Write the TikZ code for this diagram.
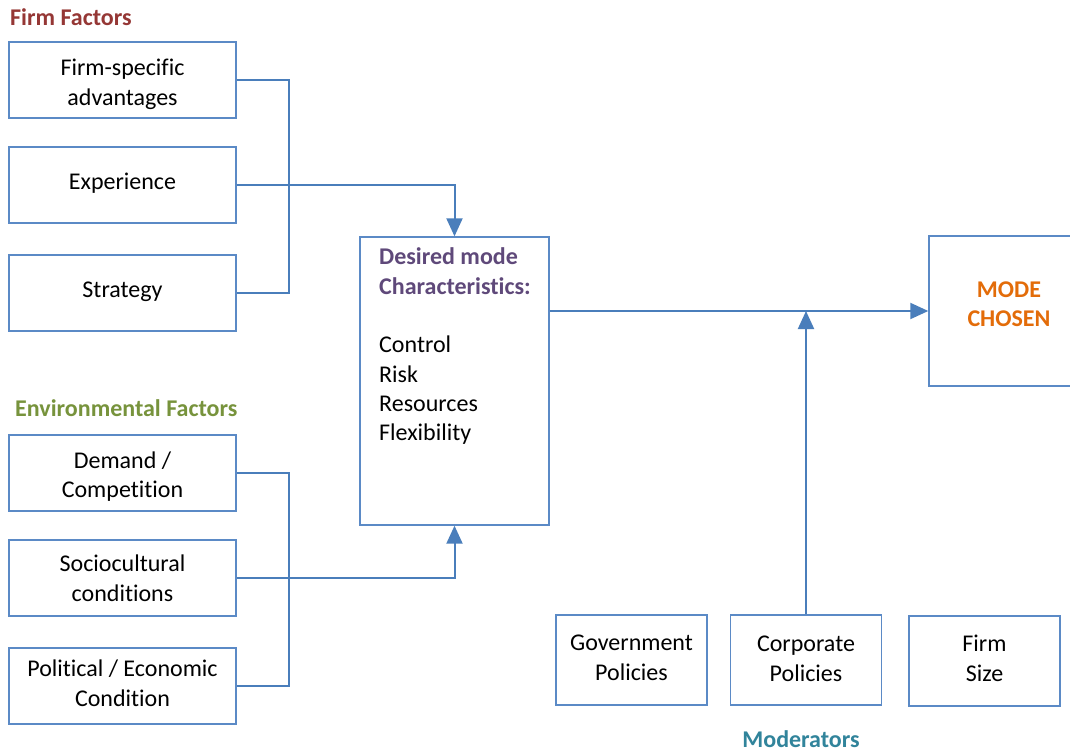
\documentclass[tikz,border=0pt]{standalone}
\usepackage{fontspec}
\setmainfont{Carlito}[Ligatures={NoCommon,NoContextual}]
\usetikzlibrary{arrows.meta}
\definecolor{boxblue}{HTML}{5B8AC6}
\definecolor{lineblue}{HTML}{4A7EBB}
\definecolor{firmred}{HTML}{953735}
\definecolor{envgreen}{HTML}{77933C}
\definecolor{modteal}{HTML}{31849B}
\definecolor{despurple}{HTML}{5F497A}
\definecolor{modeorange}{HTML}{E36C09}
\tikzset{
  txt/.style={font=\fontsize{24}{29.3}\selectfont},
  % #1 = offset of the last baseline below the box centre
  bl/.style={text height={(30+(#1))*1pt}, text depth={(30-(#1))*1pt}},
  fbox/.style={draw=boxblue, line width=1.4pt, fill=white, minimum width=227pt, minimum height=76pt,
    align=center, inner sep=0pt, txt},
  mbox/.style={draw=boxblue, line width=1.4pt, fill=white, minimum width=151pt, minimum height=90pt,
    align=center, inner sep=0pt, txt},
  conn/.style={draw=lineblue, line width=2pt},
  arr/.style={conn, -{Triangle[length=18pt,width=16pt]}},
  title/.style={font=\fontsize{24}{28}\selectfont\bfseries, inner sep=0pt}
}
\begin{document}
\begin{tikzpicture}[x=1pt,y=-1pt]
\clip (0,0) rectangle (1070,751);
\fill[white] (0,0) rectangle (1070,751);

\node[title, text=firmred, anchor=base west] (tf) at (10,26) {Firm Factors};
\node[title, text=envgreen, anchor=base west] (te) at (15,416) {Environmental Factors};
\node[title, text=modteal, anchor=base] (tm) at (801,747) {Moderators};

\node[fbox, bl=25.3] (fsa) at (122.5,80) {Firm-specific\\advantages};
\node[fbox, bl=5] (exp) at (122.5,185) {Experience};
\node[fbox, bl=4] (str) at (122.5,293) {Strategy};
\node[fbox, bl=24.3] (dem) at (122.5,473) {Demand /\\Competition};
\node[fbox, bl=23] (soc) at (122.5,578) {Sociocultural\\conditions};
\node[fbox, bl=20] (pol) at (122.5,686) {Political / Economic\\Condition};

\node[draw=boxblue, line width=1.4pt, minimum width=189pt, minimum height=288pt, inner sep=0pt] (des) at (454.5,381) {};
\node[anchor=base west, inner sep=0pt, align=left, txt] (destext) at (379,440.7)
  {\textcolor{despurple}{\bfseries Desired mode}\\\textcolor{despurple}{\bfseries Characteristics:}\\[29.3pt]Control\\Risk\\Resources\\Flexibility};

\node[draw=boxblue, line width=1.4pt, minimum width=160pt, minimum height=150pt, inner sep=0pt] (mode) at (1009,311) {};
\node[anchor=base, align=center, text=modeorange, font={\fontsize{24}{29.3}\selectfont\bfseries}, inner sep=0pt] (modetext) at (1009,326.7) {MODE\\CHOSEN};

\node[mbox, bl=20] (gov) at (631.5,660) {Government\\Policies};
\node[mbox, bl=21] (corp) at (806,660) {Corporate\\Policies};
\node[mbox, bl=20] (fsz) at (984.5,661) {Firm\\Size};

\coordinate (jf) at (289,185);
\coordinate (je) at (289,578);

\draw[conn] (fsa.east) -| (jf) |- (str.east);
\draw[arr] (exp.east) -| (des.north);
\draw[conn] (dem.east) -| (je) |- (pol.east);
\draw[arr] (soc.east) -| (des.south);
\draw[arr] (des.east |- mode.west) -- (mode.west);
\draw[arr] (corp.north) -- (corp.north |- mode.west);
\end{tikzpicture}
\end{document}
